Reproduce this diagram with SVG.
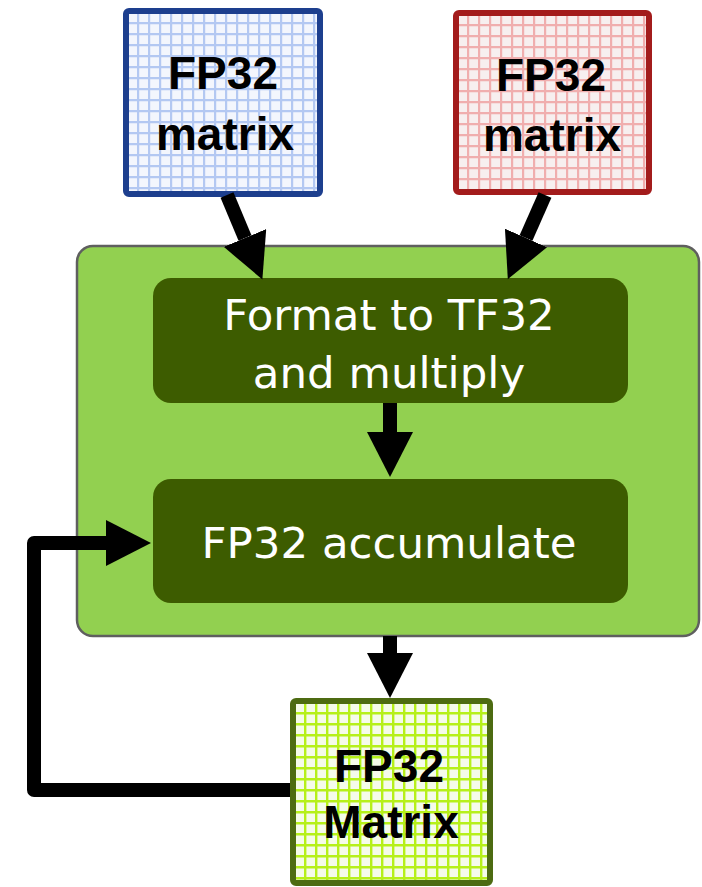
<svg xmlns="http://www.w3.org/2000/svg" width="702" height="887" viewBox="0 0 702 887">
  <style>
    .mtxText { font-family: "Liberation Sans", Arial, sans-serif; font-weight: bold; font-size: 46px; fill: #000; text-anchor: middle; }
    .opText { font-family: "DejaVu Sans", Verdana, sans-serif; font-size: 43.5px; fill: #ffffff; text-anchor: middle; }
    .op { fill: #3d5c00; }
    .wire { fill: none; stroke: #000; stroke-width: 14; stroke-linejoin: round; }
  </style>
  <defs>
    <pattern id="gridBlue" width="11" height="11" patternUnits="userSpaceOnUse" x="126" y="11">
      <rect width="11" height="11" fill="#f3f6fd"/>
      <path d="M0,1 H11 M1,0 V11" stroke="#b3c8f2" stroke-width="2.4"/>
    </pattern>
    <pattern id="gridRed" width="11" height="11" patternUnits="userSpaceOnUse" x="456" y="13">
      <rect width="11" height="11" fill="#f7efef"/>
      <path d="M0,1 H11 M1,0 V11" stroke="#f0aeae" stroke-width="2.4"/>
    </pattern>
    <pattern id="gridGreen" width="11" height="11" patternUnits="userSpaceOnUse" x="293" y="701">
      <rect width="11" height="11" fill="#f5fbea"/>
      <path d="M0,1 H11 M1,0 V11" stroke="#b6f01a" stroke-width="2.8"/>
    </pattern>
    <marker id="arrow" markerUnits="userSpaceOnUse" markerWidth="46" markerHeight="46" refX="0" refY="23" orient="auto">
      <path d="M0,0 L45,23 L0,46 Z" fill="#000"/>
    </marker>
  </defs>

  <rect width="702" height="887" fill="#ffffff"/>

  <g id="tensorCore">
    <rect x="77" y="246" width="622" height="390" rx="16" fill="#92d050" stroke="#5f5f5f" stroke-width="2.5"/>
  </g>

  <g id="formatMultiply">
    <rect class="op" x="153" y="278" width="475" height="125" rx="18"/>
    <text class="opText" x="389" y="330">Format to TF32</text>
    <text class="opText" x="389" y="388">and multiply</text>
  </g>

  <g id="accumulate">
    <rect class="op" x="153" y="479" width="475" height="124" rx="18"/>
    <text class="opText" x="389" y="558">FP32 accumulate</text>
  </g>

  <g id="matrixA">
    <rect x="126" y="11" width="194" height="183" rx="3" fill="url(#gridBlue)" stroke="#1d3f8e" stroke-width="6"/>
    <text class="mtxText" x="223" y="89">FP32</text>
    <text class="mtxText" x="225" y="150">matrix</text>
  </g>

  <g id="matrixB">
    <rect x="456" y="13" width="193" height="179" rx="3" fill="url(#gridRed)" stroke="#a31c1c" stroke-width="6"/>
    <text class="mtxText" x="551" y="91">FP32</text>
    <text class="mtxText" x="552" y="151">matrix</text>
  </g>

  <g id="matrixC">
    <rect x="293" y="701" width="197" height="182" rx="3" fill="url(#gridGreen)" stroke="#4d6b12" stroke-width="6"/>
    <text class="mtxText" x="389" y="782">FP32</text>
    <text class="mtxText" x="391" y="838">Matrix</text>
  </g>

  <g id="connectors">
    <path class="wire" d="M227,195 L245,238" marker-end="url(#arrow)"/>
    <path class="wire" d="M545,195 L526,238" marker-end="url(#arrow)"/>
    <path class="wire" d="M390,403 L390,432" marker-end="url(#arrow)"/>
    <path class="wire" d="M390,636 L390,653" marker-end="url(#arrow)"/>
    <path class="wire" d="M290,790 L34,790 L34,543 L106,543" marker-end="url(#arrow)"/>
  </g>
</svg>
